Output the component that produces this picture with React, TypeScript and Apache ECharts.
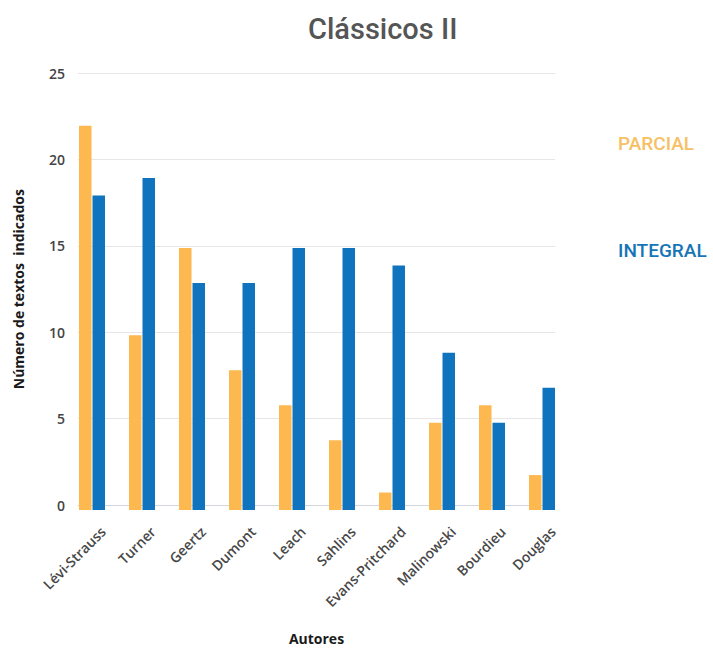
import React, { useEffect, useRef } from "react";
import * as echarts from "echarts";

const autores = [
  "Lévi-Strauss",
  "Turner",
  "Geertz",
  "Dumont",
  "Leach",
  "Sahlins",
  "Evans-Pritchard",
  "Malinowski",
  "Bourdieu",
  "Douglas",
];
const parcial = [22, 10, 15, 8, 6, 4, 1, 5, 6, 2];
const integral = [18, 19, 13, 13, 15, 15, 14, 9, 5, 7];
const yMin = 0;
const yMax = 25;
const yStep = 5;

const ORANGE = "#FDB84F";
const BLUE = "#0F74BD";

export default function App() {
  const ref = useRef<HTMLDivElement>(null);

  useEffect(() => {
    if (!ref.current) return;
    const chart = echarts.init(ref.current, undefined, { renderer: "svg" });
    const top = 73.3;
    const bottom = 140;
    chart.setOption({
      animation: false,
      backgroundColor: "#ffffff",
      title: {
        text: "Clássicos II",
        left: 303,
        top: 9,
        textStyle: {
          fontFamily: "Roboto",
          fontSize: 29,
          fontWeight: 500,
          color: "#555555",
        },
      },
      legend: {
        orient: "vertical",
        left: 608,
        top: 129,
        itemGap: 88,
        itemWidth: 0,
        itemHeight: 0,
        selectedMode: false,
        data: [
          { name: "PARCIAL", textStyle: { color: "#F7C062" } },
          { name: "INTEGRAL", textStyle: { color: "#1675B6" } },
        ],
        textStyle: { fontFamily: "Roboto", fontSize: 19, fontWeight: 500 },
      },
      grid: [
        { left: 67, width: 500, top, bottom },
        { left: 78, right: 158, top, bottom },
        { left: 78, width: 500, top, bottom },
      ],
      xAxis: [
        {
          type: "category",
          gridIndex: 0,
          data: autores,
          axisLine: { show: false },
          axisTick: { show: false },
          axisLabel: { show: false },
        },
        {
          type: "category",
          gridIndex: 1,
          data: autores,
          axisLine: { show: true, lineStyle: { color: "#D3D7DC", width: 1 } },
          axisTick: { show: false },
          axisLabel: { show: false },
          name: "Autores",
          nameLocation: "middle",
          nameGap: 126,
          nameTextStyle: {
            fontFamily: "Open Sans",
            fontSize: 14,
            fontWeight: "bold",
            color: "#1a1a1a",
          },
        },
        {
          type: "category",
          gridIndex: 2,
          data: autores,
          axisLine: { show: false },
          axisTick: { show: false },
          axisLabel: {
            rotate: 45,
            margin: 19,
            interval: 0,
            fontFamily: "Open Sans",
            fontSize: 14,
            fontWeight: 600,
            color: "#474747",
          },
        },
      ],
      yAxis: [
        {
          type: "value",
          gridIndex: 0,
          min: yMin,
          max: yMax,
          interval: yStep,
          axisLine: { show: false },
          axisTick: { show: false },
          axisLabel: { show: false },
          splitLine: { show: false },
        },
        {
          type: "value",
          gridIndex: 1,
          min: yMin,
          max: yMax,
          interval: yStep,
          axisLine: { show: false },
          axisTick: { show: false },
          axisLabel: {
            margin: 13,
            fontFamily: "Open Sans",
            fontSize: 14,
            fontWeight: 600,
            color: "#444444",
          },
          splitLine: { show: true, lineStyle: { color: "#E6E6E6", width: 1 } },
          name: "Número de textos  indicados",
          nameLocation: "middle",
          nameGap: 53,
          nameTextStyle: {
            fontFamily: "Open Sans",
            fontSize: 14,
            fontWeight: "bold",
            color: "#1a1a1a",
          },
        },
        {
          type: "value",
          gridIndex: 2,
          min: yMin,
          max: yMax,
          interval: yStep,
          show: false,
        },
      ],
      series: [
        {
          name: "PARCIAL",
          type: "bar",
          xAxisIndex: 0,
          yAxisIndex: 0,
          data: parcial,
          barWidth: 12.5,
          barGap: "8%",
          itemStyle: { color: ORANGE },
        },
        {
          name: "INTEGRAL",
          type: "bar",
          xAxisIndex: 0,
          yAxisIndex: 0,
          data: integral,
          barWidth: 12.5,
          barGap: "8%",
          itemStyle: { color: BLUE },
        },
      ],
    });
    return () => chart.dispose();
  }, []);

  return (
    <div
      ref={ref}
      style={{ position: "fixed", left: 0, top: 0, width: 713, height: 650 }}
    />
  );
}
